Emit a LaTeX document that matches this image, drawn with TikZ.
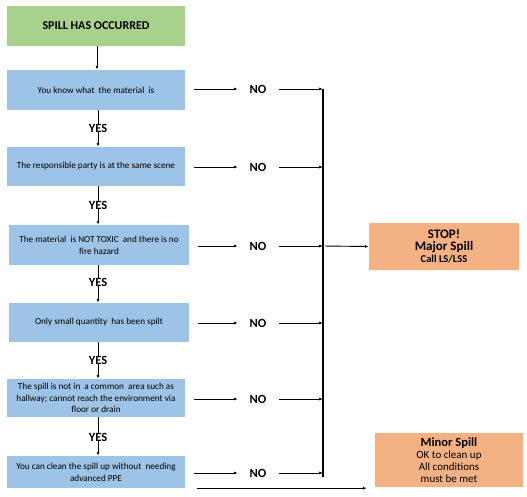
\documentclass[tikz,border=0pt]{standalone}
\usepackage{fontspec}
\setmainfont{Carlito}
\usetikzlibrary{arrows.meta}
\definecolor{boxgreen}{HTML}{A9D18E}
\definecolor{boxblue}{HTML}{9DC3E6}
\definecolor{boxorange}{HTML}{F4B183}
\begin{document}
\begin{tikzpicture}[x=1pt,y=-1pt,
  qbox/.style={fill=boxblue, minimum width=178, minimum height=39, inner sep=0pt, align=center,
    font=\fontsize{9.2}{11.8}\selectfont},
  startbox/.style={fill=boxgreen, minimum width=178, minimum height=40, inner sep=0pt,
    font=\fontsize{12}{14}\selectfont\bfseries},
  endbox/.style={fill=boxorange, inner sep=0pt, align=center},
  nolabel/.style={minimum width=40, inner sep=0pt, font=\fontsize{12.5}{14}\selectfont\bfseries},
  yeslabel/.style={inner sep=0pt, font=\fontsize{12.5}{14}\selectfont\bfseries},
  arr/.style={-{Latex[length=4pt,width=3pt]}, line width=0.9pt},
  plain/.style={line width=0.9pt},
  bus/.style={line width=1.2pt}
]
\useasboundingbox (0,0) rectangle (527,496);

% start and question boxes
\node[startbox] (start) at (96,26) {SPILL HAS OCCURRED};
\node[qbox, minimum height=40] (q1) at (96,90) {You know what\ \ the material\ \ is};
\node[qbox] (q2) at (96,166.5) {The responsible party is at the same scene};
\node[qbox, minimum width=180, minimum height=40] (q3) at (99,245) {The material\ \ is NOT TOXIC\ \ and there is no\\fire hazard};
\node[qbox, minimum width=180] (q4) at (99,322.5) {Only small quantity\ \ has been spilt};
\node[qbox, minimum height=38] (q5) at (96,398) {The spill is not in\ \ a common\ \ area such as\\hallway; cannot reach the environment via\\floor or drain};
\node[qbox, minimum height=32] (q6) at (96,472) {You can clean the spill up without\ \ needing\\advanced PPE};

% YES labels
\node[yeslabel] (y1) at (98,128) {YES};
\node[yeslabel] (y2) at (98,205) {YES};
\node[yeslabel] (y3) at (98,282) {YES};
\node[yeslabel] (y4) at (98,360) {YES};
\node[yeslabel] (y5) at (98,437) {YES};

% vertical flow
\draw[arr] (start.south -| q1) ++(1,0) coordinate (s0) -- (s0 |- q1.north);
\draw[plain] (y1.north |- q1.south) -- (y1.north);
\draw[arr] (y1.south) -- (y1.south |- q2.north);
\draw[plain] (y2.north |- q2.south) -- (y2.north);
\draw[arr] (y2.south) -- (y2.south |- q3.north);
\draw[plain] (y3.north |- q3.south) -- (y3.north);
\draw[arr] (y3.south) -- (y3.south |- q4.north);
\draw[plain] (y4.north |- q4.south) -- (y4.north);
\draw[arr] (y4.south) -- (y4.south |- q5.north);
\draw[plain] (y5.north |- q5.south) -- (y5.north);
\draw[arr] (y5.south) -- (y5.south |- q6.north);

% NO labels
\node[nolabel] (n1) at (258,89) {NO};
\node[nolabel] (n2) at (258,167) {NO};
\node[nolabel] (n3) at (258,246) {NO};
\node[nolabel] (n4) at (258,323) {NO};
\node[nolabel] (n5) at (258,399) {NO};
\node[nolabel] (n6) at (258,473) {NO};

% bus coordinates
\coordinate (b1) at (323,89);
\coordinate (b2) at (323,167);
\coordinate (b3) at (323,246);
\coordinate (b4) at (323,323);
\coordinate (b5) at (323,399);
\coordinate (b6) at (323,473);
\coordinate (bend) at (323,477);

\foreach \i in {1,...,6}{
  \draw[arr, shorten <=9pt] (q\i.east |- n\i) -- (n\i.west);
  \draw[arr, shorten <=1pt] (n\i.east) -- (b\i);
}
\draw[bus] (b1) -- (bend);

% outcome boxes
\node[endbox, minimum width=150, minimum height=47] (stop) at (444,246.5)
  {\fontsize{13}{15}\selectfont\bfseries STOP!\\
   \fontsize{13}{14.5}\selectfont\bfseries Major Spill\\
   \fontsize{10.5}{12.5}\selectfont\bfseries Call LS/LSS};
\node[endbox, minimum width=148, minimum height=54] (minor) at (449,460)
  {\fontsize{12.5}{13}\selectfont\bfseries Minor Spill\\
   \fontsize{11}{13.5}\selectfont OK to clean up\\
   \fontsize{11}{13}\selectfont All conditions\\
   \fontsize{11}{12}\selectfont must be met};

\draw[arr, shorten <=2pt] (b3) -- (stop.west);
\draw[arr] ([xshift=12pt]q6.south east) -- ([xshift=-8pt]q6.south east -| minor.west);
\end{tikzpicture}
\end{document}
